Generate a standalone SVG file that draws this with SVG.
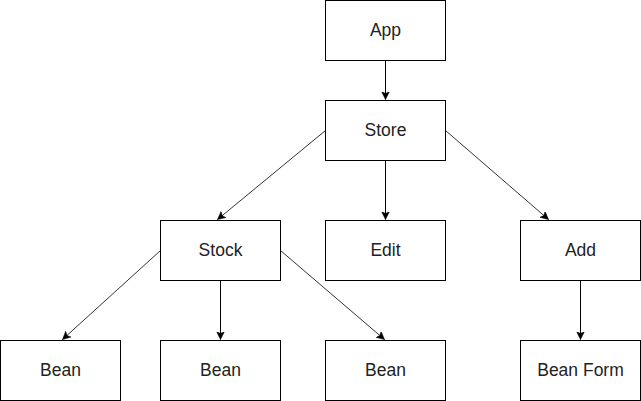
<svg xmlns="http://www.w3.org/2000/svg" width="641" height="401" viewBox="0 0 641 401">
  <style>
    .box { fill: #ffffff; stroke: #000000; stroke-width: 1; }
    .label { font-family: "Liberation Sans", Arial, sans-serif; font-size: 17.5px; fill: #222222; text-anchor: middle; }
    .edge { fill: none; stroke: #000000; stroke-width: 1; marker-end: url(#arrow); }
    .edge.slant { stroke: #333333; }
  </style>
  <defs>
    <marker id="arrow" markerWidth="10" markerHeight="10" refX="8" refY="4" orient="auto" markerUnits="userSpaceOnUse">
      <path d="M0,0 L8,4 L0,8 L2,4 Z" fill="#000000" stroke="#000000" stroke-width="0.5"/>
    </marker>
  </defs>
  <rect width="641" height="401" fill="#ffffff"/>

  <g id="connectors">
    <line class="edge" x1="385.5" y1="60.5" x2="385.5" y2="99.5"/>
    <line class="edge slant" x1="325.5" y1="130.5" x2="217.5" y2="219.5"/>
    <line class="edge" x1="385.5" y1="160.5" x2="385.5" y2="219.5"/>
    <line class="edge slant" x1="445.5" y1="130.5" x2="548.5" y2="219.5"/>
    <line class="edge slant" x1="160.5" y1="250.5" x2="62.5" y2="339.5"/>
    <line class="edge" x1="220.5" y1="280.5" x2="220.5" y2="339.5"/>
    <line class="edge slant" x1="280.5" y1="250.5" x2="384.5" y2="339.5"/>
    <line class="edge" x1="580.5" y1="280.5" x2="580.5" y2="339.5"/>
  </g>

  <g id="app">
    <rect class="box" x="325.5" y="0.5" width="120" height="60"/>
    <text class="label" x="385.5" y="35.8">App</text>
  </g>
  <g id="store">
    <rect class="box" x="325.5" y="100.5" width="120" height="60"/>
    <text class="label" x="385.5" y="135.8">Store</text>
  </g>
  <g id="stock">
    <rect class="box" x="160.5" y="220.5" width="120" height="60"/>
    <text class="label" x="220.5" y="255.8">Stock</text>
  </g>
  <g id="edit">
    <rect class="box" x="325.5" y="220.5" width="120" height="60"/>
    <text class="label" x="385.5" y="255.8">Edit</text>
  </g>
  <g id="add">
    <rect class="box" x="520.5" y="220.5" width="120" height="60"/>
    <text class="label" x="580.5" y="255.8">Add</text>
  </g>
  <g id="bean1">
    <rect class="box" x="0.5" y="340.5" width="120" height="60"/>
    <text class="label" x="60.5" y="375.8">Bean</text>
  </g>
  <g id="bean2">
    <rect class="box" x="160.5" y="340.5" width="120" height="60"/>
    <text class="label" x="220.5" y="375.8">Bean</text>
  </g>
  <g id="bean3">
    <rect class="box" x="325.5" y="340.5" width="120" height="60"/>
    <text class="label" x="385.5" y="375.8">Bean</text>
  </g>
  <g id="bean-form">
    <rect class="box" x="520.5" y="340.5" width="120" height="60"/>
    <text class="label" x="580.5" y="375.8">Bean Form</text>
  </g>
</svg>
